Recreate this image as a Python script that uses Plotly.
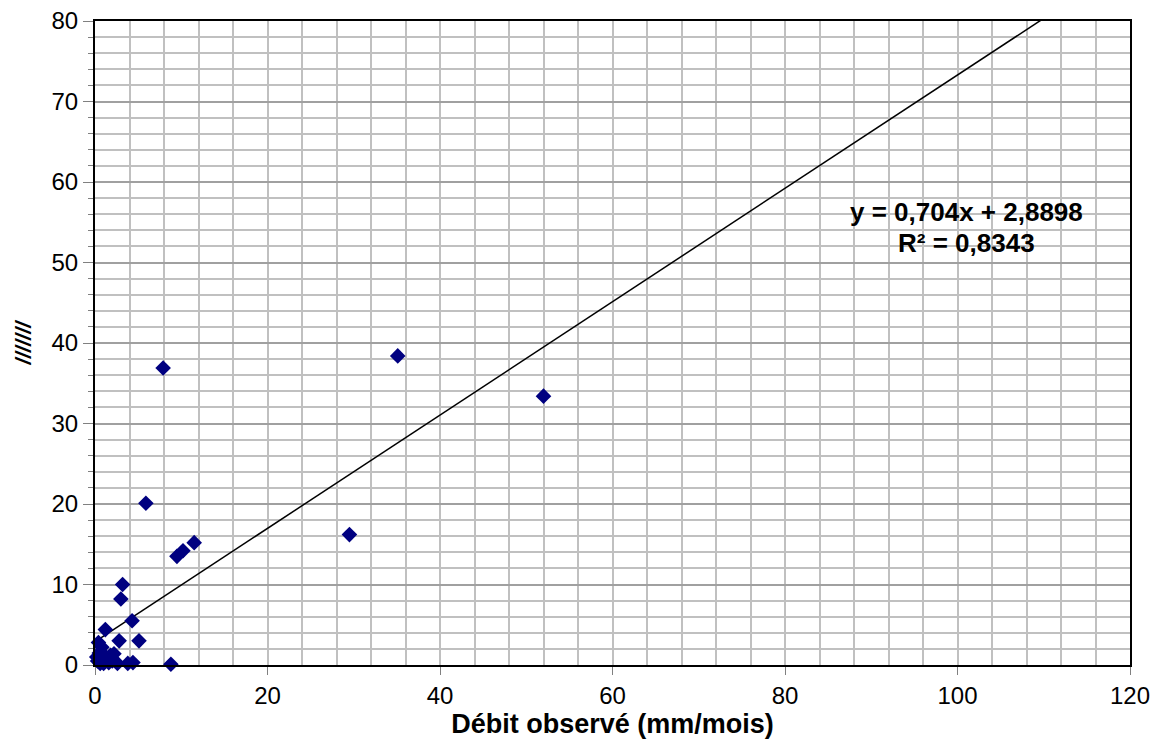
import plotly.graph_objects as go

# Observed vs simulated flows (mm/mois)
obs = [7.9, 35.1, 52.0, 29.5, 5.9, 11.5, 10.2, 9.5, 3.2, 3.0, 4.3, 5.1, 2.8, 1.2, 8.8,
       0.3, 0.5, 0.8, 1.0, 1.3, 1.6, 2.0, 2.6, 3.8, 4.4, 0.6, 1.8, 0.4, 2.2, 1.1, 0.2]
sim = [36.9, 38.4, 33.4, 16.2, 20.1, 15.2, 14.2, 13.5, 10.0, 8.2, 5.5, 3.0, 3.0, 4.4, 0.1,
       0.5, 1.5, 2.2, 0.2, 1.0, 0.3, 0.5, 0.2, 0.2, 0.3, 0.2, 1.2, 2.8, 1.4, 0.5, 1.0]

slope = 0.704
intercept = 2.8898
r2 = 0.8343
trend_x = [min(obs), 120]
trend_y = [slope * v + intercept for v in trend_x]

x_ticks = [0, 20, 40, 60, 80, 100, 120]
y_ticks = [0, 10, 20, 30, 40, 50, 60, 70, 80]

font_family = "Liberation Sans, Arial, sans-serif"

fig = go.Figure()
fig.add_trace(go.Scatter(x=trend_x, y=trend_y, mode="lines",
                         line=dict(color="black", width=1.5), hoverinfo="skip",
                         showlegend=False))
fig.add_trace(go.Scatter(x=obs, y=sim, mode="markers",
                         marker=dict(symbol="diamond", size=12, color="#000080",
                                     line=dict(width=0)),
                         showlegend=False, cliponaxis=False))

fig.add_annotation(x=101.0, y=56.3, xref="x", yref="y",
                   text="<b>y = 0,704x + 2,8898</b>", showarrow=False,
                   font=dict(size=26, color="black", family=font_family))
fig.add_annotation(x=101.0, y=52.4, xref="x", yref="y",
                   text="<b>R² = 0,8343</b>", showarrow=False,
                   font=dict(size=26, color="black", family=font_family))

fig.update_layout(
    width=1161, height=751,
    margin=dict(l=95, r=31, t=21, b=86, autoexpand=False),
    paper_bgcolor="white", plot_bgcolor="white",
    font=dict(family=font_family, size=24, color="black"),
    xaxis=dict(range=[0, 120], tickvals=x_ticks, ticks="outside", ticklen=8,
               tickcolor="#808080", tickwidth=1, automargin=False,
               showgrid=True, gridcolor="#c0c0c0", gridwidth=2,
               minor=dict(dtick=4, showgrid=True, gridcolor="#c0c0c0", gridwidth=2),
               showline=True, linecolor="black", linewidth=2, mirror=True,
               zeroline=False,
               title=dict(text="<b>Débit observé (mm/mois)</b>", standoff=6,
                          font=dict(size=27))),
    yaxis=dict(range=[0, 80], tickvals=y_ticks, ticks="outside", ticklen=10,
               tickcolor="#808080", tickwidth=1, automargin=False,
               showgrid=True, gridcolor="#a0a0a0", gridwidth=2,
               minor=dict(dtick=2, showgrid=True, gridcolor="#c0c0c0", gridwidth=2,
                          ticks="outside", ticklen=5, tickcolor="#808080"),
               showline=True, linecolor="black", linewidth=2, mirror=True,
               zeroline=False,
               title=dict(text="<b><i>///////</i></b>", standoff=14,
                          font=dict(size=22))),
)

fig.write_html("out.html")
